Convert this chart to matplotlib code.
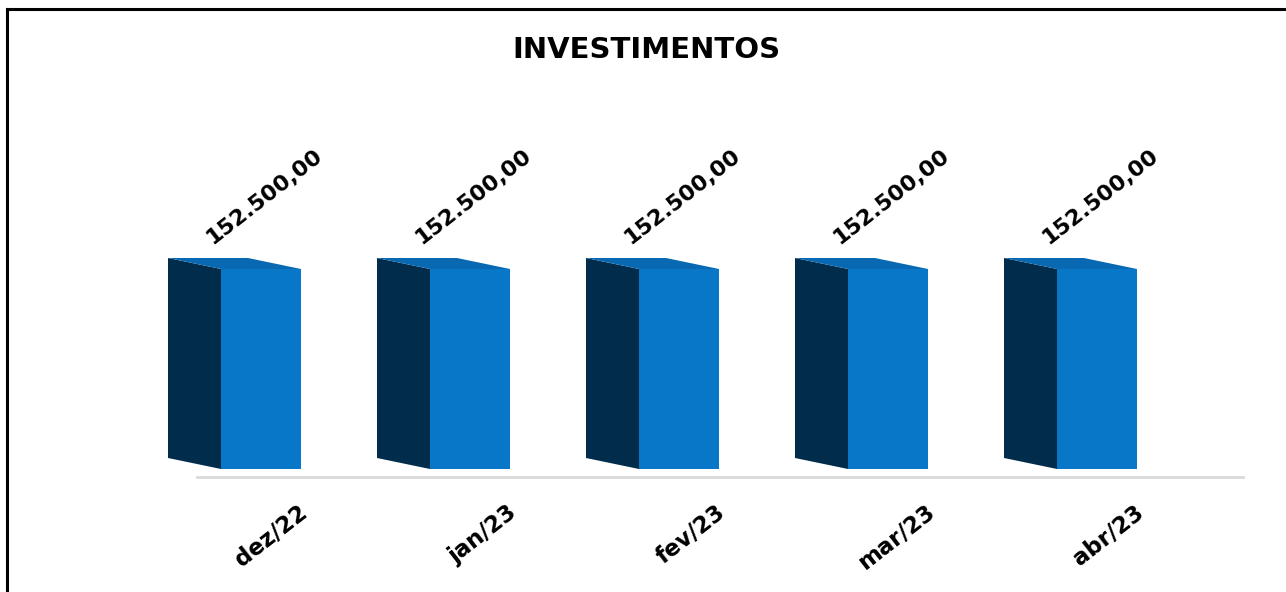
import matplotlib
matplotlib.use("Agg")
import matplotlib.pyplot as plt
from matplotlib.patches import Polygon
from matplotlib.lines import Line2D

categories = ["dez/22", "jan/23", "fev/23", "mar/23", "abr/23"]
values = [152500.00, 152500.00, 152500.00, 152500.00, 152500.00]
value_labels = ["152.500,00", "152.500,00", "152.500,00", "152.500,00", "152.500,00"]
title = "INVESTIMENTOS"

FRONT = "#0877C7"
SIDE = "#022C4B"
TOP = "#0869B2"
FONT = "DejaVu Sans"

W, H = 1286, 592
fig = plt.figure(figsize=(W / 100, H / 100), dpi=100)
fig.patch.set_facecolor("white")

# axes placement in pixels
ax_l, ax_r, ax_b, ax_t = 150, 1250, 469, 69
ax = fig.add_axes([ax_l / W, (H - ax_b) / H, (ax_r - ax_l) / W, (ax_b - ax_t) / H])
x0 = 261
step = 209
ax.set_xlim((ax_l - x0) / step, (ax_r - x0) / step)
ax.set_ylim(0, 305000)
ax.axis("off")

xr = ax.get_xlim()
yr = ax.get_ylim()
dpx_x = (xr[1] - xr[0]) / (ax_r - ax_l)
dpx_y = (yr[1] - yr[0]) / (ax_b - ax_t)

front_w = 80 * dpx_x
side_dx = -53 * dpx_x
side_dy = 11 * dpx_y

xs = list(range(len(categories)))
bars = ax.bar(xs, values, width=front_w, color=FRONT, zorder=3, linewidth=0)
for b, v in zip(bars, values):
    fl = b.get_x()
    fr = fl + b.get_width()
    side = Polygon([(fl, 0), (fl, v), (fl + side_dx, v + side_dy), (fl + side_dx, side_dy)],
                   closed=True, facecolor=SIDE, edgecolor="none", zorder=2)
    top = Polygon([(fl, v), (fr, v), (fr + side_dx, v + side_dy), (fl + side_dx, v + side_dy)],
                  closed=True, facecolor=TOP, edgecolor="none", zorder=2)
    ax.add_patch(side)
    ax.add_patch(top)

# floor line
base_y = -8 * dpx_y
ax.plot([(197 - x0) / step, (1243 - x0) / step], [base_y, base_y], color="#D9D9D9",
        linewidth=2, clip_on=False, zorder=1)

# value labels
for x, v, lab in zip(xs, values, value_labels):
    ax.annotate(lab, xy=(x, v), xytext=(-48 * 0.72, 24 * 0.72), textcoords="offset points",
                rotation=38, rotation_mode="anchor", ha="left", va="baseline",
                fontsize=16, fontweight="bold", family=FONT, color="black")

# category labels
for x, cat in zip(xs, categories):
    ax.annotate(cat, xy=(x, 0), xytext=(48 * 0.72, -46 * 0.72), textcoords="offset points",
                rotation=38, rotation_mode="anchor", ha="right", va="baseline",
                fontsize=16.5, fontweight="bold", family=FONT, color="black",
                annotation_clip=False)

fig.text(646 / W, 1 - 50 / H, title, ha="center", va="center", fontsize=21,
         fontweight="bold", family=FONT, color="black")

# chart border (top and left visible)
fig.add_artist(Line2D([7 / W, 1], [1 - 8.5 / H, 1 - 8.5 / H], transform=fig.transFigure,
                      color="black", linewidth=2.2))
fig.add_artist(Line2D([7 / W, 7 / W], [0, 1 - 8.5 / H], transform=fig.transFigure,
                      color="black", linewidth=2.2))

fig.savefig("out.png", dpi=100, facecolor="white")
